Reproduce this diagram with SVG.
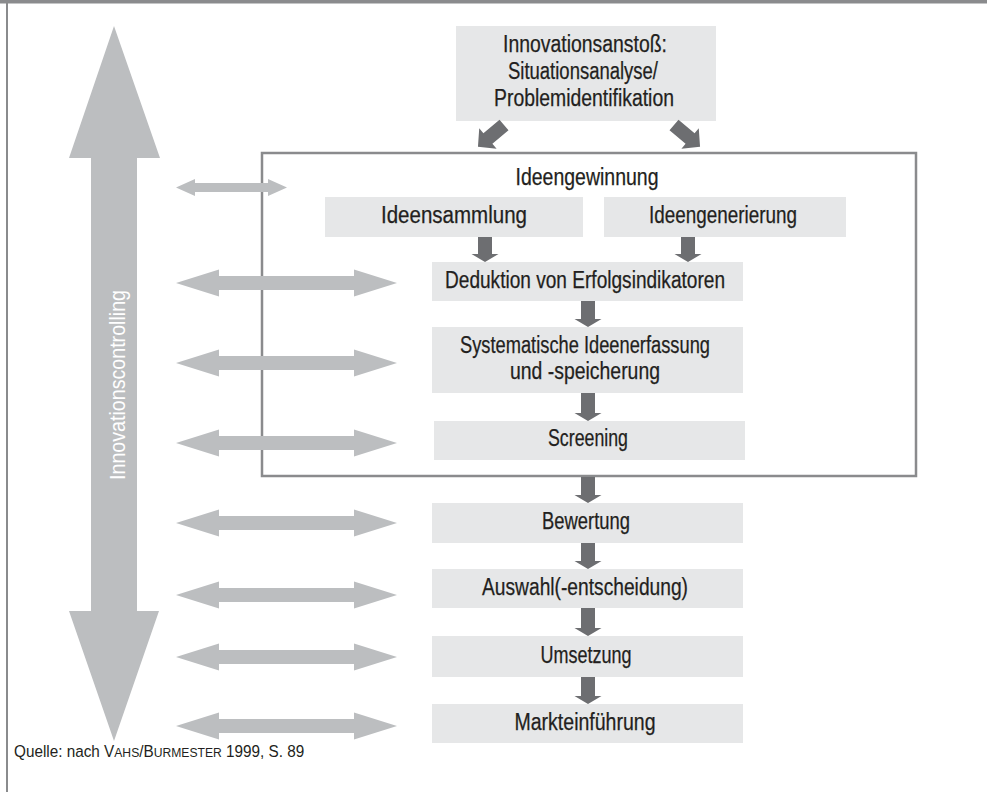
<svg xmlns="http://www.w3.org/2000/svg" xmlns:xlink="http://www.w3.org/1999/xlink" width="987" height="792" viewBox="0 0 987 792">
  <style>
    .box { fill: #e6e7e8; }
    .lbl { font-family: "Liberation Sans", Arial, sans-serif; font-size: 23px; fill: #231f20; text-anchor: middle; stroke: #231f20; stroke-width: 0.25; }
    .dark { fill: #6d6e71; }
    .light { fill: #bcbec0; }
    .frame { fill: none; stroke: #8a8b8d; stroke-width: 2.5; }
    .edge { fill: #8a8b8d; }
  </style>
  <defs>
    <!-- wide two-headed arrow centred on y = 0 -->
    <path id="dbl" d="M176,0 L219,-13.5 L219,-7 L354,-7 L354,-13.5 L397,0 L354,13.5 L354,7 L219,7 L219,13.5 Z"/>
    <!-- short slanted arrow along +x -->
    <path id="slant" d="M0,-7 L21,-7 L21,-13.5 L34,0 L21,13.5 L21,7 L0,7 Z"/>
  </defs>

  <rect width="987" height="792" fill="#ffffff"/>
  <!-- page edges -->
  <rect class="edge" x="0" y="0" width="987" height="3.5"/>
  <rect class="edge" x="6" y="0" width="2" height="792"/>

  <!-- controlling axis -->
  <g id="controlling">
    <path class="light" d="M114,26 L160,158 L137,158 L137,611 L159,611 L114,741 L69,611 L91,611 L91,158 L69,158 Z"/>
    <text x="0" y="0" transform="translate(125,385) rotate(-90)" font-family="Liberation Sans, Arial, sans-serif" font-size="22" fill="#ffffff" text-anchor="middle" textLength="190" lengthAdjust="spacingAndGlyphs">Innovationscontrolling</text>
  </g>

  <!-- idea generation frame -->
  <g id="ideengewinnung">
    <rect class="frame" x="262" y="153" width="654" height="323"/>
    <text class="lbl" x="587" y="185" textLength="143" lengthAdjust="spacingAndGlyphs">Ideengewinnung</text>
  </g>

  <g id="anstoss">
    <rect class="box" x="456" y="26" width="260" height="95"/>
    <text class="lbl" x="585" y="52" textLength="164" lengthAdjust="spacingAndGlyphs">Innovationsanstoß:</text>
    <text class="lbl" x="583" y="79" textLength="150" lengthAdjust="spacingAndGlyphs">Situationsanalyse/</text>
    <text class="lbl" x="584" y="106" textLength="180" lengthAdjust="spacingAndGlyphs">Problemidentifikation</text>
  </g>

  <g id="ideensammlung">
    <rect class="box" x="325" y="197" width="258" height="40"/>
    <text class="lbl" x="454" y="223" textLength="146" lengthAdjust="spacingAndGlyphs">Ideensammlung</text>
  </g>

  <g id="ideengenerierung">
    <rect class="box" x="604" y="197" width="242" height="40"/>
    <text class="lbl" x="723" y="223" textLength="148" lengthAdjust="spacingAndGlyphs">Ideengenerierung</text>
  </g>

  <g id="deduktion">
    <rect class="box" x="432" y="262" width="311" height="39"/>
    <text class="lbl" x="585" y="288" textLength="280" lengthAdjust="spacingAndGlyphs">Deduktion von Erfolgsindikatoren</text>
  </g>

  <g id="erfassung">
    <rect class="box" x="432" y="327" width="311" height="66"/>
    <text class="lbl" x="585" y="353" textLength="250" lengthAdjust="spacingAndGlyphs">Systematische Ideenerfassung</text>
    <text class="lbl" x="585" y="379" textLength="150" lengthAdjust="spacingAndGlyphs">und -speicherung</text>
  </g>

  <g id="screening">
    <rect class="box" x="434" y="421" width="311" height="39"/>
    <text class="lbl" x="588" y="446" textLength="80" lengthAdjust="spacingAndGlyphs">Screening</text>
  </g>

  <g id="bewertung">
    <rect class="box" x="432" y="503" width="311" height="40"/>
    <text class="lbl" x="586" y="529" textLength="88" lengthAdjust="spacingAndGlyphs">Bewertung</text>
  </g>

  <g id="auswahl">
    <rect class="box" x="432" y="569" width="311" height="39"/>
    <text class="lbl" x="585" y="595" textLength="206" lengthAdjust="spacingAndGlyphs">Auswahl(-entscheidung)</text>
  </g>

  <g id="umsetzung">
    <rect class="box" x="432" y="636" width="311" height="41"/>
    <text class="lbl" x="586" y="663" textLength="91" lengthAdjust="spacingAndGlyphs">Umsetzung</text>
  </g>

  <g id="markteinfuehrung">
    <rect class="box" x="432" y="704" width="311" height="39"/>
    <text class="lbl" x="585" y="730" textLength="141" lengthAdjust="spacingAndGlyphs">Markteinführung</text>
  </g>

  <!-- connectors -->
  <g id="connectors">
    <!-- from the trigger into the frame -->
    <use xlink:href="#slant" class="dark" transform="translate(504,125) rotate(140)"/>
    <use xlink:href="#slant" class="dark" transform="translate(674,125) rotate(40)"/>

    <!-- process flow -->
    <polygon class="dark" points="478,237 492,237 492,254 498.5,254 485,262 471.5,254 478,254"/>
    <polygon class="dark" points="681,237 695,237 695,254 701.5,254 688,262 674.5,254 681,254"/>
    <polygon class="dark" points="581,301 595,301 595,319 601.5,319 588,327 574.5,319 581,319"/>
    <polygon class="dark" points="581,393 595,393 595,413 601.5,413 588,421 574.5,413 581,413"/>
    <polygon class="dark" points="581,477 595,477 595,495 601.5,495 588,503 574.5,495 581,495"/>
    <polygon class="dark" points="581,543 595,543 595,561 601.5,561 588,569 574.5,561 581,561"/>
    <polygon class="dark" points="581,608 595,608 595,628 601.5,628 588,636 574.5,628 581,628"/>
    <polygon class="dark" points="581,677 595,677 595,696 601.5,696 588,704 574.5,696 581,696"/>

    <!-- controlling links -->
    <path class="light" d="M176,187.5 L195,179 L195,183 L268,183 L268,179 L287,187.5 L268,196 L268,192 L195,192 L195,196 Z"/>
    <use xlink:href="#dbl" class="light" y="283"/>
    <use xlink:href="#dbl" class="light" y="363"/>
    <use xlink:href="#dbl" class="light" y="443"/>
    <use xlink:href="#dbl" class="light" y="523"/>
    <use xlink:href="#dbl" class="light" y="595"/>
    <use xlink:href="#dbl" class="light" y="657"/>
    <use xlink:href="#dbl" class="light" y="726"/>
  </g>

  <!-- source line, small caps for the author names -->
  <text x="0" y="0" transform="translate(14,757) scale(0.9,1)" font-family="Liberation Sans, Arial, sans-serif" font-size="17" fill="#231f20">Quelle: nach V<tspan font-size="13.5">AHS</tspan>/B<tspan font-size="13.5">URMESTER</tspan> 1999, S. 89</text>
</svg>
